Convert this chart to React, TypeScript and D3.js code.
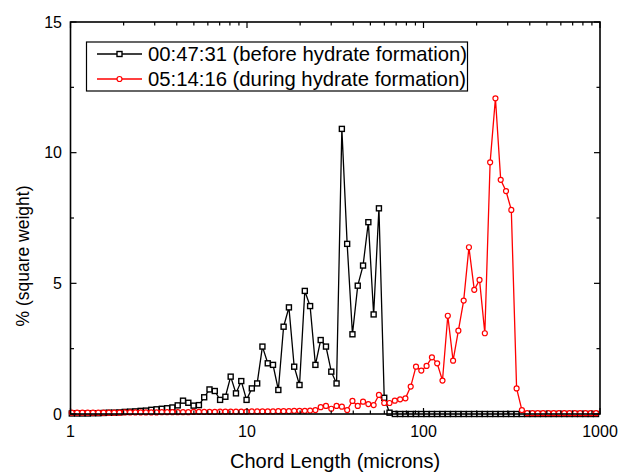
import React from "react";
import * as d3 from "d3";

// Chord length channels (microns), log-spaced
const chord: number[] = [
  1.017, 1.090, 1.168, 1.252, 1.341, 1.437, 1.540, 1.650, 1.768, 1.895,
  2.030, 2.175, 2.331, 2.497, 2.676, 2.867, 3.073, 3.292, 3.528, 3.780,
  4.050, 4.340, 4.651, 4.983, 5.340, 5.721, 6.131, 6.569, 7.039, 7.542,
  8.082, 8.660, 9.279, 9.943, 10.65, 11.42, 12.23, 13.11, 14.04, 15.05,
  16.12, 17.28, 18.51, 19.84, 21.26, 22.78, 24.41, 26.15, 28.02, 30.03,
  32.17, 34.47, 36.94, 39.58, 42.41, 45.45, 48.70, 52.18, 55.91, 59.91,
  64.20, 68.79, 73.71, 78.98, 84.63, 90.68, 97.17, 104.1, 111.6, 119.5,
  128.1, 137.3, 147.1, 157.6, 168.9, 180.9, 193.9, 207.7, 222.6, 238.5,
  255.6, 273.8, 293.4, 314.4, 336.9, 361.0, 386.8, 414.5, 444.1, 475.9,
  509.9, 546.4, 585.5, 627.3, 672.2, 720.3, 771.8, 827.0, 886.1, 949.5,
];

// 00:47:31 (before hydrate formation)
const before: number[] = [
  0.02, 0.02, 0.02, 0.02, 0.03, 0.03, 0.04, 0.05, 0.05, 0.06,
  0.08, 0.09, 0.10, 0.12, 0.13, 0.16, 0.18, 0.20, 0.22, 0.25,
  0.33, 0.51, 0.43, 0.32, 0.34, 0.64, 0.94, 0.88, 0.54, 0.66,
  1.43, 0.79, 1.26, 0.54, 0.98, 1.17, 2.58, 1.94, 1.88, 0.92,
  3.34, 4.08, 1.81, 1.11, 4.71, 4.13, 1.88, 2.83, 2.58, 1.62,
  1.17, 10.91, 6.51, 3.05, 4.91, 5.68, 7.34, 3.81, 7.87, 0.62,
  0.05, 0, 0, 0, 0, 0, 0, 0, 0, 0,
  0, 0, 0, 0, 0, 0, 0, 0, 0, 0,
  0, 0, 0, 0, 0, 0, 0, 0, 0, 0,
  0, 0, 0, 0, 0, 0, 0, 0, 0, 0,
];

// 05:14:16 (during hydrate formation)
const during: number[] = [
  0.05, 0.05, 0.05, 0.05, 0.05, 0.05, 0.05, 0.05, 0.05, 0.05,
  0.06, 0.06, 0.06, 0.06, 0.06, 0.06, 0.06, 0.07, 0.07, 0.07,
  0.07, 0.07, 0.07, 0.08, 0.08, 0.08, 0.08, 0.08, 0.09, 0.09,
  0.09, 0.09, 0.09, 0.09, 0.10, 0.10, 0.10, 0.10, 0.10, 0.11,
  0.11, 0.11, 0.12, 0.12, 0.12, 0.13, 0.15, 0.26, 0.31, 0.20,
  0.31, 0.28, 0.15, 0.50, 0.31, 0.47, 0.38, 0.34, 0.73, 0.42,
  0.42, 0.51, 0.56, 0.60, 1.05, 1.81, 1.66, 1.84, 2.17, 1.94,
  1.28, 3.76, 2.04, 3.19, 4.34, 6.38, 4.75, 5.13, 3.09, 9.63,
  12.08, 8.96, 8.53, 7.81, 0.98, 0.15, 0.03, 0.03, 0.03, 0.03,
  0.03, 0.03, 0.03, 0.03, 0.03, 0.03, 0.03, 0.03, 0.03, 0.03,
];

const xMajor: number[] = [1, 10, 100, 1000];
const xTickLabels: string[] = ["1", "10", "100", "1000"];
const yMajor: number[] = [0, 5, 10, 15];
const yMinor: number[] = [2.5, 7.5, 12.5];
const seriesNames: string[] = [
  "00:47:31 (before hydrate formation)",
  "05:14:16 (during hydrate formation)",
];
const seriesColors: string[] = ["#000000", "#ff0000"];

const W = 619;
const H = 472;
const L = 70.5;
const R = 600;
const T = 22;
const B = 414;
const FONT = "'Liberation Sans', Arial, sans-serif";

export default function App() {
  const x = d3.scaleLog().domain([1, 1000]).range([L, R]);
  const y = d3.scaleLinear().domain([0, 15]).range([B, T]);
  const xMinor = x.ticks().filter((v) => !xMajor.includes(v));

  const line = d3
    .line<[number, number]>()
    .x((d) => x(d[0]))
    .y((d) => y(d[1]));

  const blackPts: [number, number][] = chord.map((c, i) => [c, before[i]]);
  const redPts: [number, number][] = chord.map((c, i) => [c, during[i]]);

  const major = 6;
  const minor = 3.5;
  const sq = 5;

  return (
    <svg
      width={W}
      height={H}
      style={{ position: "absolute", left: 0, top: 0, background: "#fff" }}
      fontFamily={FONT}
    >
      <rect x={0} y={0} width={W} height={H} fill="#fff" />
      {/* series: black */}
      <path d={line(blackPts) || ""} fill="none" stroke={seriesColors[0]} strokeWidth={1.3} />
      {blackPts.map((p, i) => (
        <rect
          key={"b" + i}
          x={x(p[0]) - sq / 2}
          y={y(p[1]) - sq / 2}
          width={sq}
          height={sq}
          fill="#fff"
          stroke={seriesColors[0]}
          strokeWidth={1.4}
        />
      ))}
      {/* series: red */}
      <path d={line(redPts) || ""} fill="none" stroke={seriesColors[1]} strokeWidth={1.3} />
      {redPts.map((p, i) => (
        <circle
          key={"r" + i}
          cx={x(p[0])}
          cy={y(p[1])}
          r={2.5}
          fill="#fff"
          stroke={seriesColors[1]}
          strokeWidth={1.2}
        />
      ))}

      {/* frame */}
      <rect x={L} y={T} width={R - L} height={B - T} fill="none" stroke="#000" strokeWidth={1.6} />

      {/* x ticks */}
      {xMajor.map((v) => (
        <g key={"xM" + v}>
          <line x1={x(v)} x2={x(v)} y1={B} y2={B - major} stroke="#000" strokeWidth={1.2} />
          <line x1={x(v)} x2={x(v)} y1={T} y2={T + major} stroke="#000" strokeWidth={1.2} />
        </g>
      ))}
      {xMinor.map((v) => (
        <g key={"xm" + v}>
          <line x1={x(v)} x2={x(v)} y1={B} y2={B - minor} stroke="#000" strokeWidth={1.2} />
          <line x1={x(v)} x2={x(v)} y1={T} y2={T + minor} stroke="#000" strokeWidth={1.2} />
        </g>
      ))}
      {xMajor.map((v, i) => (
        <text key={"xl" + v} x={x(v)} y={437} fontSize={16} textAnchor="middle" fill="#000">
          {xTickLabels[i]}
        </text>
      ))}

      {/* y ticks */}
      {yMajor.map((v) => (
        <g key={"yM" + v}>
          <line x1={L} x2={L + major} y1={y(v)} y2={y(v)} stroke="#000" strokeWidth={1.2} />
          <line x1={R} x2={R - major} y1={y(v)} y2={y(v)} stroke="#000" strokeWidth={1.2} />
          <text x={62} y={y(v) + 5.5} fontSize={16} textAnchor="end" fill="#000">
            {v}
          </text>
        </g>
      ))}
      {yMinor.map((v) => (
        <g key={"ym" + v}>
          <line x1={L} x2={L + minor} y1={y(v)} y2={y(v)} stroke="#000" strokeWidth={1.2} />
          <line x1={R} x2={R - minor} y1={y(v)} y2={y(v)} stroke="#000" strokeWidth={1.2} />
        </g>
      ))}

      {/* axis titles */}
      <text x={335} y={468} fontSize={20} textAnchor="middle" fill="#000">
        Chord Length (microns)
      </text>
      <text
        transform={`translate(29,${(T + B) / 2 + 38}) rotate(-90)`}
        fontSize={17.5}
        textAnchor="middle"
        fill="#000"
      >
        % (square weight)
      </text>

      {/* legend */}
      <rect x={86.5} y={42} width={381} height={49} fill="#fff" stroke="#000" strokeWidth={1.2} />
      {seriesNames.map((name, i) => {
        const cy = 54 + i * 25;
        return (
          <g key={"lg" + i}>
            <line x1={97} x2={142} y1={cy} y2={cy} stroke={seriesColors[i]} strokeWidth={1.3} />
            {i === 0 ? (
              <rect x={119.5 - sq / 2} y={cy - sq / 2} width={sq} height={sq} fill="#fff" stroke="#000" strokeWidth={1.4} />
            ) : (
              <circle cx={119.5} cy={cy} r={2.5} fill="#fff" stroke={seriesColors[1]} strokeWidth={1.2} />
            )}
            <text x={148} y={cy + 7.3} fontSize={20.3} fill="#000">
              {name}
            </text>
          </g>
        );
      })}
    </svg>
  );
}
